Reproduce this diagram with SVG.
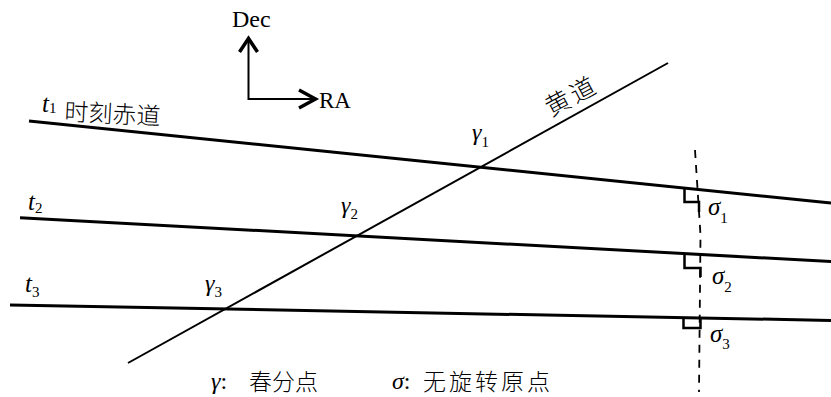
<svg xmlns="http://www.w3.org/2000/svg" width="831" height="397" viewBox="0 0 831 397">
<style>
.eq{stroke:#000;stroke-width:3;fill:none}
.ecl{stroke:#000;stroke-width:2;fill:none}
.ax{stroke:#000;stroke-width:2;fill:none}
.head{stroke:#000;stroke-width:3.5;fill:none;stroke-linejoin:miter}
.ra{stroke:#000;stroke-width:2.5;fill:none}
.dash{stroke:#000;stroke-width:1.8;fill:none;stroke-dasharray:8 7}
.lat{font-family:"Liberation Serif","Times New Roman",serif;fill:#000}
.it{font-style:italic}
.sub{font-size:15px;font-style:normal}
.cjk{font-family:"Noto Sans CJK SC","Liberation Serif",sans-serif;font-weight:300;fill:#000}
</style>
<rect width="831" height="397" fill="#fff"/>
<g id="connectors">
<line class="eq" x1="29" y1="121" x2="831" y2="203"/>
<line class="eq" x1="20" y1="217.7" x2="831" y2="261.5"/>
<line class="eq" x1="10" y1="305" x2="831" y2="320.4"/>
<line class="ecl" x1="128" y1="363" x2="668" y2="63"/>
<path class="dash" d="M695,150 L700.5,235 L699,392"/>
</g>
<g id="axes">
<polyline class="ax" points="248.5,38 248.5,99 315,99"/>
<polyline class="head" points="239.5,52 248.5,38.5 257.5,52"/>
<polyline class="head" points="299,90 315.5,99 299,108"/>
<text class="lat" x="232" y="27" font-size="24">Dec</text>
<text class="lat" x="319" y="107.5" font-size="23">RA</text>
</g>
<g id="equator1">
<text class="lat it" x="42" y="112" font-size="25">t<tspan class="sub" dy="1">1</tspan></text>
<text class="cjk" x="64" y="120" font-size="24" transform="rotate(3 64 120)">时刻赤道</text>
</g>
<g id="equator2">
<text class="lat it" x="28" y="210" font-size="25">t<tspan class="sub" dy="3">2</tspan></text>
</g>
<g id="equator3">
<text class="lat it" x="25" y="292" font-size="25">t<tspan class="sub" dy="5">3</tspan></text>
</g>
<g id="ecliptic">
<text class="cjk" font-size="25" letter-spacing="3" transform="translate(551 117) rotate(-28)">黄道</text>
</g>
<g id="gamma1">
<text class="lat it" x="472" y="140" font-size="24">γ<tspan class="sub" dy="7">1</tspan></text>
</g>
<g id="gamma2">
<text class="lat it" x="341" y="213" font-size="24">γ<tspan class="sub" dy="6">2</tspan></text>
</g>
<g id="gamma3">
<text class="lat it" x="205" y="291" font-size="24">γ<tspan class="sub" dy="6">3</tspan></text>
</g>
<g id="sigma1">
<polyline class="ra" points="684.5,189 684.5,202 699,202 699,212"/>
<text class="lat it" x="708" y="215" font-size="25">σ<tspan class="sub" dy="8">1</tspan></text>
</g>
<g id="sigma2">
<polyline class="ra" points="684.5,254 684.5,268 700.5,268 700.5,277"/>
<text class="lat it" x="712" y="284" font-size="25">σ<tspan class="sub" dy="8">2</tspan></text>
</g>
<g id="sigma3">
<polyline class="ra" points="683.5,318 683.5,328 700.5,328 700.5,318"/>
<text class="lat it" x="710" y="342" font-size="25">σ<tspan class="sub" dy="7">3</tspan></text>
</g>
<g id="legend">
<text class="lat" x="211" y="389" font-size="24"><tspan class="it">γ</tspan>:</text>
<text class="cjk" x="249" y="390" font-size="23">春分点</text>
<text class="lat" x="392" y="389" font-size="24"><tspan class="it">σ</tspan>:</text>
<text class="cjk" x="423" y="390" font-size="23" letter-spacing="3">无旋转原点</text>
</g>
</svg>
